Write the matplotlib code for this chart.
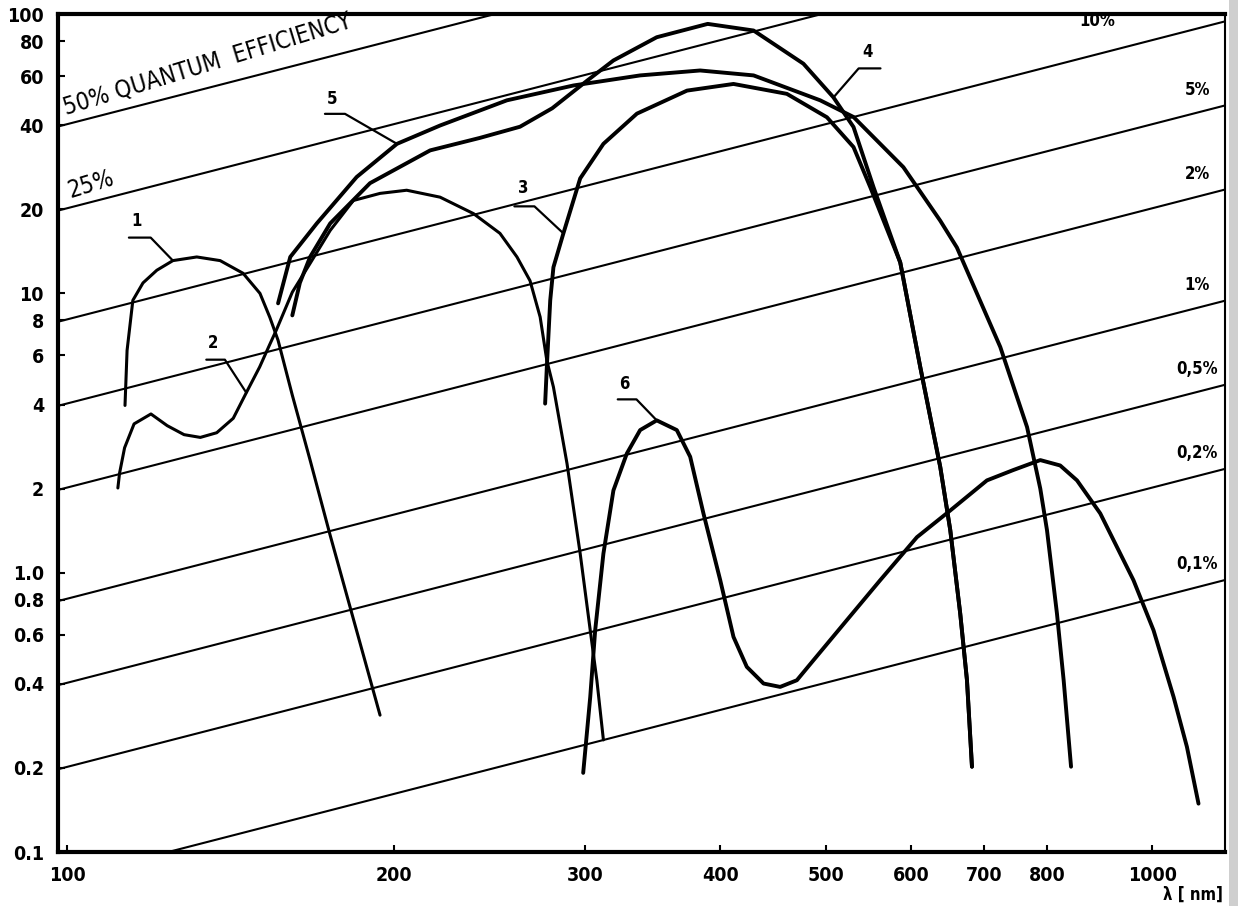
import numpy as np
import matplotlib
matplotlib.use("Agg")
import matplotlib.pyplot as plt
from matplotlib.ticker import NullLocator

plt.rcParams["font.family"] = ["DejaVu Sans"]
plt.rcParams["font.stretch"] = "condensed"

# spectral sensitivity curves, wavelength [nm] and sensitivity [mA/W]
curve1_wl = [113.1, 113.6, 115.0, 117.5, 121.0, 125.2, 131.7, 138.4, 145.3, 150.6,
             153.8, 156.5, 161.3, 167.5, 174.8, 184.3, 194.3]
curve1_s = [3.97, 6.25, 9.44, 10.9, 12.1, 13.1, 13.5, 13.1, 11.8, 10.0,
            8.2, 6.79, 4.32, 2.53, 1.36, 0.648, 0.309]

curve2_wl = [111.4, 111.8, 113.0, 115.3, 119.5, 123.7, 128.2, 132.7, 137.4, 142.3,
             146.3, 150.5, 153.7, 155.9, 161.3, 167.5, 174.8, 183.6, 194.3, 205.6,
             220.7, 236.9, 250.6, 259.8, 267.1, 272.9, 276.8, 280.7, 288.9, 297.1,
             303.5, 307.8, 312.1]
curve2_s = [2.01, 2.27, 2.80, 3.41, 3.70, 3.36, 3.12, 3.05, 3.17, 3.57,
            4.41, 5.45, 6.54, 7.38, 10.1, 12.8, 16.8, 21.5, 22.8, 23.4,
            22.1, 19.3, 16.4, 13.5, 11.1, 8.23, 5.75, 4.62, 2.46, 1.17,
            0.622, 0.412, 0.252]

curve3_wl = [275.8, 276.8, 278.8, 280.7, 286.7, 297.1, 312.1, 335.1, 372.7, 411.3,
             460.6, 501.5, 530.6, 549.8, 585.9, 611.3, 637.8, 651.5, 665.4, 675.0,
             682.2]
curve3_s = [4.03, 5.45, 9.44, 12.4, 16.4, 25.8, 34.3, 44.0, 53.2, 56.2,
            51.8, 42.7, 33.4, 24.0, 12.9, 5.45, 2.39, 1.42, 0.714, 0.412,
            0.202]

curve4_wl = [161.3, 163.9, 167.5, 174.8, 190.2, 216.1, 240.0, 261.5, 280.0, 301.6,
             318.8, 349.5, 389.4, 429.2, 477.1, 508.5, 530.6, 553.6, 585.9, 611.3,
             637.8, 651.5, 665.4, 675.0, 682.2]
curve4_s = [8.34, 10.9, 13.5, 17.8, 24.8, 32.5, 36.0, 39.5, 46.0, 57.8,
            68.2, 82.6, 92.2, 87.3, 66.4, 50.3, 39.4, 24.0, 12.9, 5.45,
            2.39, 1.42, 0.714, 0.412, 0.202]

curve5_wl = [156.5, 160.6, 169.9, 184.9, 201.4, 220.7, 254.3, 292.9, 337.4, 383.2,
             429.2, 494.4, 530.6, 589.8, 637.8, 660.7, 724.4, 766.8, 788.6, 799.9,
             817.0, 828.7, 841.8]
curve5_s = [9.21, 13.5, 17.8, 26.1, 34.3, 39.9, 49.1, 55.5, 60.3, 62.8,
            60.3, 49.1, 42.8, 28.3, 18.2, 14.6, 6.43, 3.32, 2.0, 1.42,
            0.714, 0.412, 0.202]

curve6_wl = [299.0, 303.5, 306.7, 312.1, 318.8, 328.0, 337.4, 349.5, 364.7, 375.2,
             385.9, 399.9, 411.3, 423.1, 438.4, 454.1, 470.5, 487.4, 523.1, 561.5,
             607.0, 651.5, 704.2, 744.6, 788.6, 822.6, 852.5, 895.6, 961.0, 1002.8,
             1046.4, 1076.4, 1103.2]
curve6_s = [0.192, 0.359, 0.622, 1.17, 1.97, 2.67, 3.24, 3.51, 3.24, 2.60,
            1.63, 0.94, 0.589, 0.460, 0.401, 0.390, 0.412, 0.486, 0.676, 0.94,
            1.34, 1.67, 2.14, 2.33, 2.53, 2.42, 2.14, 1.63, 0.94, 0.622,
            0.359, 0.238, 0.149]

# quantum efficiency reference lines [%] (the "2%" and "0,2%" lines sit at 2.5 / 0.25)
qe_levels = [50, 25, 10, 5, 2.5, 1, 0.5, 0.25, 0.1]
qe_right_labels = {10: "10%", 5: "5%", 2.5: "2%", 1: "1%", 0.5: "0,5%", 0.25: "0,2%", 0.1: "0,1%"}

x_ticks = [100, 200, 300, 400, 500, 600, 700, 800, 1000]
y_ticks = [0.1, 0.2, 0.4, 0.6, 0.8, 1.0, 2, 4, 6, 8, 10, 20, 40, 60, 80, 100]
y_tick_labels = ["0.1", "0.2", "0.4", "0.6", "0.8", "1.0", "2", "4", "6", "8",
                 "10", "20", "40", "60", "80", "100"]

fig, ax = plt.subplots(figsize=(12.38, 9.06), dpi=100)
fig.subplots_adjust(left=0.0468, right=0.9895, bottom=0.0596, top=0.9845)
ax.set_xscale("log")
ax.set_yscale("log")
ax.set_xlim(98.1, 1167)
ax.set_ylim(0.1, 100)

xl = np.array(ax.get_xlim())
for qe in qe_levels:
    ax.plot(xl, qe / 100 * xl / 1.2398, color="black", lw=1.5, zorder=2)
    if qe in qe_right_labels:
        wl, up = (890, 24) if qe == 10 else (1100, 14)
        ax.annotate(qe_right_labels[qe], (wl, qe / 100 * wl / 1.2398),
                    xytext=(0, up), textcoords="offset pixels",
                    ha="center", va="bottom", fontsize=12, fontweight="bold")

ax.annotate("50% QUANTUM  EFFICIENCY", (99.5, 0.5 * 99.5 / 1.2398),
            xytext=(3, 5), textcoords="offset pixels", rotation=17,
            rotation_mode="anchor", ha="left", va="bottom", fontsize=17)
ax.annotate("25%", (100.5, 0.25 * 100.5 / 1.2398),
            xytext=(3, 5), textcoords="offset pixels", rotation=17,
            rotation_mode="anchor", ha="left", va="bottom", fontsize=17)

curves = [(curve1_wl, curve1_s, 2.2), (curve2_wl, curve2_s, 2.2),
          (curve3_wl, curve3_s, 2.8), (curve4_wl, curve4_s, 2.8),
          (curve5_wl, curve5_s, 2.8), (curve6_wl, curve6_s, 2.8)]
for wl, s, lw in curves:
    ax.plot(wl, s, color="black", lw=lw, solid_capstyle="round",
            solid_joinstyle="round", zorder=3)

# number labels with leader lines: (text, curve, point index, leader start, corner angle, text offset)
leaders = [("1", curve1_wl, curve1_s, 5, (-44, 23), -46, (-36, 40)),
           ("2", curve2_wl, curve2_s, 10, (-40, 33), -57, (-33, 50)),
           ("3", curve3_wl, curve3_s, 4, (-49, 27), -43, (-40, 45)),
           ("4", curve4_wl, curve4_s, 15, (47, 29), 49, (34, 45)),
           ("5", curve5_wl, curve5_s, 4, (-72, 30), -30, (-65, 45)),
           ("6", curve6_wl, curve6_s, 7, (-39, 21), -46, (-32, 36))]
for txt, wl, s, i, start, ang, toff in leaders:
    ax.annotate("", (wl[i], s[i]), xytext=start, textcoords="offset pixels",
                arrowprops=dict(arrowstyle="-", lw=1.6, color="black",
                                shrinkA=0, shrinkB=0,
                                connectionstyle=f"angle,angleA=0,angleB={ang},rad=0"))
    ax.annotate(txt, (wl[i], s[i]), xytext=toff, textcoords="offset pixels",
                ha="center", va="center", fontsize=12, fontweight="bold")

ax.set_xticks(x_ticks)
ax.set_xticklabels([str(t) for t in x_ticks])
ax.set_yticks(y_ticks)
ax.set_yticklabels(y_tick_labels)
ax.xaxis.set_minor_locator(NullLocator())
ax.yaxis.set_minor_locator(NullLocator())
ax.tick_params(direction="in", length=5, width=1.5, labelsize=14, pad=10)
for lab in ax.get_xticklabels() + ax.get_yticklabels():
    lab.set_fontweight("bold")

for side in ["left", "top", "bottom"]:
    ax.spines[side].set_linewidth(3)
ax.spines["right"].set_linewidth(1.5)

fig.text(0.988, 0.002, "λ [ nm]", ha="right", va="bottom", fontsize=12,
         fontweight="bold")
# grey scan edge on the right
fig.patches.append(plt.Rectangle((0.993, 0), 0.007, 1, transform=fig.transFigure,
                                 facecolor="#cfcfcf", edgecolor="none", zorder=0))

fig.savefig("out.png", dpi=100)
